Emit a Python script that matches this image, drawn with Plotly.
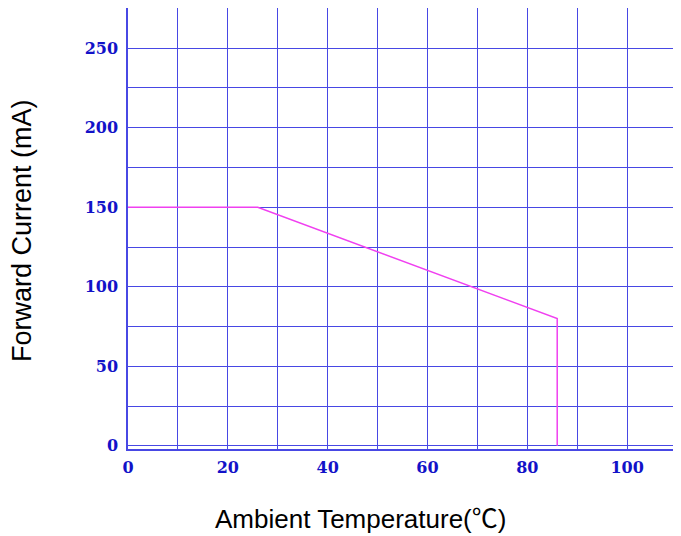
import plotly.graph_objects as go

temperature = [0, 26, 86, 86]
forward_current = [150, 150, 80, 0]

x_tick_vals = [0, 20, 40, 60, 80, 100]
x_tick_text = ["0", "20", "40", "60", "80", "100"]
x_grid_vals = [10, 30, 50, 70, 90]
y_tick_vals = [0, 50, 100, 150, 200, 250]
y_tick_text = ["0", "50", "100", "150", "200", "250"]
y_grid_vals = [25, 75, 125, 175, 225, 275]

grid_color = "#4848e4"
tick_font = dict(family="DejaVu Serif", size=16, color="#1212c8", weight="bold")

fig = go.Figure()
fig.add_trace(go.Scatter(
    x=temperature, y=forward_current, mode="lines",
    line=dict(color="#f040f0", width=1.5), showlegend=False, hoverinfo="skip"))

fig.update_layout(
    width=665, height=528,
    margin=dict(l=120, r=0, t=0, b=87),
    paper_bgcolor="white", plot_bgcolor="white",
    xaxis=dict(
        range=[0, 109.2], tickvals=x_tick_vals, ticktext=x_tick_text,
        showgrid=True, gridcolor=grid_color, gridwidth=1,
        minor=dict(tickvals=x_grid_vals, showgrid=True, gridcolor=grid_color, gridwidth=1),
        showline=True, linecolor=grid_color, linewidth=1.5,
        zeroline=False, ticks="", tickfont=tick_font, ticklabelstandoff=3,
    ),
    yaxis=dict(
        range=[-2, 275.3], tickvals=y_tick_vals, ticktext=y_tick_text,
        showgrid=True, gridcolor=grid_color, gridwidth=1,
        minor=dict(tickvals=y_grid_vals, showgrid=True, gridcolor=grid_color, gridwidth=1),
        showline=True, linecolor=grid_color, linewidth=1.5,
        zeroline=False, ticks="", tickfont=tick_font, ticklabelstandoff=5,
    ),
    annotations=[
        dict(text="Ambient Temperature(<span style=\"font-family:Noto Sans CJK SC\">℃</span>)",
             xref="paper", yref="paper",
             x=(352 - 120) / 545, y=(441 - 508) / 441, xanchor="center", yanchor="middle",
             showarrow=False, font=dict(family="Liberation Sans", size=26, color="black")),
        dict(text="Forward Current (mA)", xref="paper", yref="paper",
             x=(14 - 120) / 545, y=(441 - 223) / 441, xanchor="center", yanchor="middle",
             textangle=-90, showarrow=False,
             font=dict(family="Liberation Sans", size=27, color="black")),
    ],
)

fig.write_html("out.html")
